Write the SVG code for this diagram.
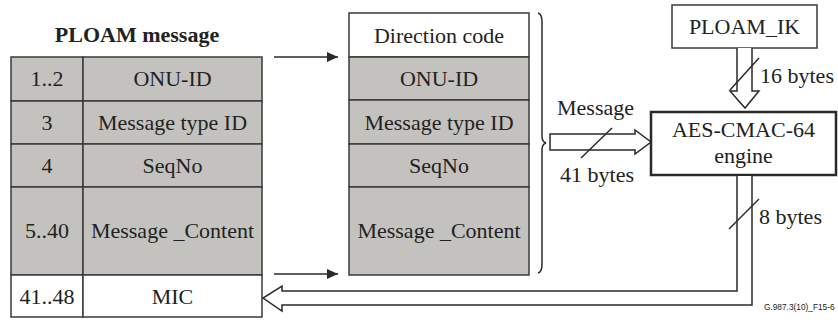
<svg xmlns="http://www.w3.org/2000/svg" width="838" height="334" viewBox="0 0 838 334">
<style>
  .t { font-family: "Liberation Serif", "DejaVu Serif", "Times New Roman", Times, serif; font-size: 22px; fill: #222; text-anchor: middle; }
  .title { font-weight: bold; }
  .g { fill: #c4c2bf; stroke: #3a3a3a; stroke-width: 1.5; }
  .w { fill: #ffffff; stroke: #3a3a3a; stroke-width: 1.5; }
  .ln { fill: none; stroke: #2a2a2a; stroke-width: 1.5; }
  .fat { fill: #ffffff; stroke: #2a2a2a; stroke-width: 1.5; }
  .st { text-anchor: start; }
  .foot { font-family: "Liberation Sans", Arial, sans-serif; font-size: 8.3px; fill: #222; text-anchor: start; }
</style>
<defs>
  <marker id="ah" markerWidth="12" markerHeight="10" refX="11" refY="5" orient="auto" markerUnits="userSpaceOnUse">
    <path d="M0,0 L11,5 L0,10 Z" fill="#2a2a2a"/>
  </marker>
</defs>

<text class="t title" x="137" y="42">PLOAM message</text>

<g id="ploam-table">
  <rect class="g" x="11" y="57" width="72" height="44"/>
  <rect class="g" x="83" y="57" width="179" height="44"/>
  <rect class="g" x="11" y="101" width="72" height="43"/>
  <rect class="g" x="83" y="101" width="179" height="43"/>
  <rect class="g" x="11" y="144" width="72" height="43"/>
  <rect class="g" x="83" y="144" width="179" height="43"/>
  <rect class="g" x="11" y="187" width="72" height="88"/>
  <rect class="g" x="83" y="187" width="179" height="88"/>
  <rect class="w" x="11" y="275" width="72" height="42"/>
  <rect class="w" x="83" y="275" width="179" height="42"/>
  <text class="t" x="47" y="86">1..2</text>
  <text class="t" x="172.5" y="86">ONU-ID</text>
  <text class="t" x="47" y="130">3</text>
  <text class="t" x="172.5" y="130">Message type ID</text>
  <text class="t" x="47" y="173">4</text>
  <text class="t" x="172.5" y="173">SeqNo</text>
  <text class="t" x="47" y="238">5..40</text>
  <text class="t" x="172.5" y="238">Message _Content</text>
  <text class="t" x="47" y="304">41..48</text>
  <text class="t" x="172.5" y="304">MIC</text>
</g>

<g id="mic-input">
  <rect class="w" x="349" y="13" width="180" height="44"/>
  <rect class="g" x="349" y="57" width="180" height="43"/>
  <rect class="g" x="349" y="100" width="180" height="44"/>
  <rect class="g" x="349" y="144" width="180" height="43"/>
  <rect class="g" x="349" y="187" width="180" height="88"/>
  <text class="t" x="439" y="43">Direction code</text>
  <text class="t" x="439" y="86">ONU-ID</text>
  <text class="t" x="439" y="130">Message type ID</text>
  <text class="t" x="439" y="173">SeqNo</text>
  <text class="t" x="439" y="238">Message _Content</text>
</g>

<g id="ploam-ik">
  <rect class="w" x="672" y="5" width="145" height="43"/>
  <text class="t" x="744.5" y="34">PLOAM_IK</text>
</g>

<g id="aes-engine">
  <rect x="651" y="112" width="185" height="63" fill="#fff" stroke="#2a2a2a" stroke-width="2.5"/>
  <text class="t" x="743.5" y="137">AES-CMAC-64</text>
  <text class="t" x="743.5" y="163">engine</text>
</g>

<g id="connectors">
  <line class="ln" x1="274" y1="57" x2="338" y2="57" marker-end="url(#ah)"/>
  <line class="ln" x1="274" y1="274" x2="338" y2="274" marker-end="url(#ah)"/>
  <path class="ln" d="M538,13 Q542,14 542,22 L542,136 Q542,142 546,143 Q542,144 542,150 L542,264 Q542,272 538,273"/>
  <path class="fat" d="M550,134 L635,134 L635,130 L651,142 L635,154 L635,150 L550,150 Z"/>
  <line class="ln" x1="581" y1="158" x2="612" y2="128"/>
  <text class="t" x="595.5" y="115">Message</text>
  <text class="t" x="597" y="182">41 bytes</text>
  <path class="fat" d="M737,48 L737,91 L730,91 L745,108 L759,91 L752,91 L752,48"/>
  <line class="ln" x1="730" y1="90" x2="759" y2="58"/>
  <text class="t st" x="760" y="83">16 bytes</text>
  <path class="fat" d="M737,176 L737,291 L282,291 L282,286 L263,298 L282,311 L282,305 L752,305 L752,176"/>
  <line class="ln" x1="729" y1="229" x2="759" y2="199"/>
  <text class="t st" x="759" y="224">8 bytes</text>
</g>

<text class="foot" x="764" y="310">G.987.3(10)_F15-6</text>
</svg>
